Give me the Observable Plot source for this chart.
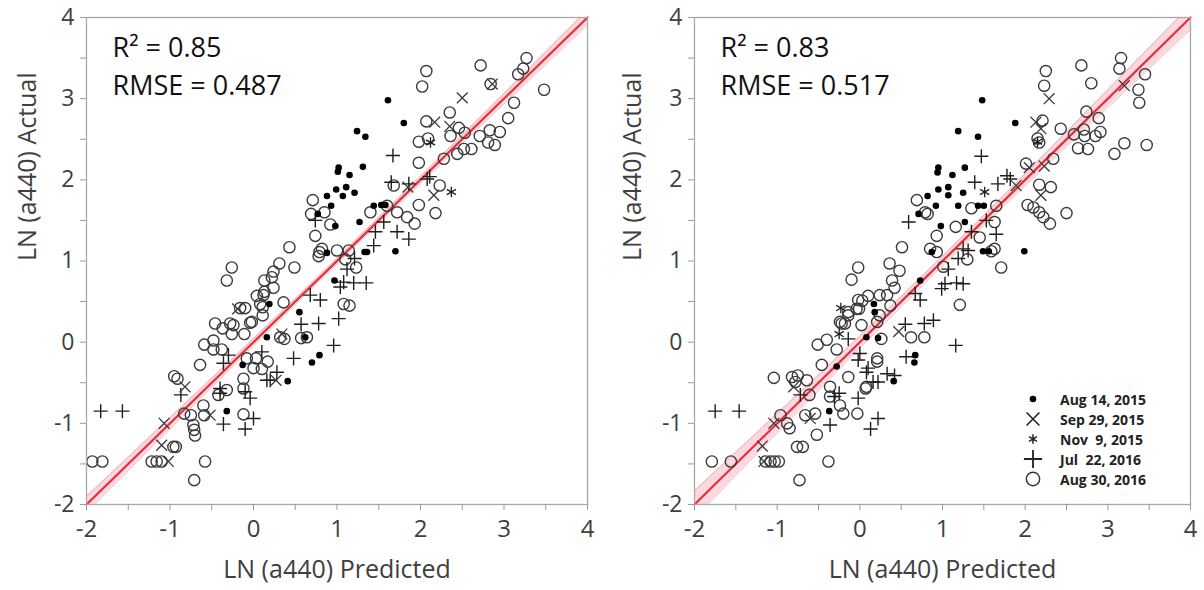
<!DOCTYPE html>
<html><head><meta charset="utf-8">
<script src="https://cdn.jsdelivr.net/npm/d3@7"></script>
<script src="https://cdn.jsdelivr.net/npm/@observablehq/plot@0.6"></script>
<style>
html,body{margin:0;padding:0;background:#fff;}
#wrap{position:relative;display:flex;width:1204px;height:590px;overflow:hidden;}
#wrap svg{display:block;}
#legend{position:absolute;left:1022px;top:389px;font-family:"Open Sans",sans-serif;font-weight:700;font-size:14px;color:#222;}
#legend .row{display:flex;align-items:center;height:20px;white-space:pre;}
#legend svg{width:22px;height:20px;margin-right:16px;}
</style></head><body>
<div id="wrap"><div id="left"></div><div id="right"></div><div id="legend"></div></div>
<script>
// ---- axis ticks ----
const majorTicks = [-2, -1, 0, 1, 2, 3, 4];
const minorTicks = [-1.5, -0.5, 0.5, 1.5, 2.5, 3.5];
const xLabel = "LN (a440) Predicted";
const yLabel = "LN (a440) Actual";

// ---- 1:1 fit line and confidence band ----
const fitX = [-2, 4];
const fitY = [-2, 4];
const bandX = [-2, -1, 0, 1, 2, 3, 4];
const bandLoL = [-2.10, -1.07, -0.045, 0.965, 1.955, 2.935, 3.905];
const bandHiL = [-1.90, -0.93, 0.045, 1.035, 2.045, 3.065, 4.095];
const bandLoR = [-2.17, -1.12, -0.075, 0.94, 1.925, 2.89, 3.85];
const bandHiR = [-1.83, -0.88, 0.075, 1.06, 2.075, 3.11, 4.15];

// ---- statistics ----
const statsL = ["R² = 0.85", "RMSE = 0.487"];
const statsR = ["R² = 0.83", "RMSE = 0.517"];

// ---- legend ----
const seriesNames = ["Aug 14, 2015", "Sep 29, 2015", "Nov  9, 2015", "Jul  22, 2016", "Aug 30, 2016"];

// ---- LEFT panel data [predicted, actual] ----
const aug14_2015_L = [[1.61,2.98],[1.80,2.70],[1.24,2.60],[1.34,2.53],[1.02,2.15],[1.01,2.10],[1.31,2.16],[1.15,2.06],[0.99,1.88],[1.11,1.91],[1.07,1.80],[1.21,1.84],[0.88,1.80],[0.93,1.68],[0.77,1.58],[0.98,1.43],[1.27,1.48],[1.44,1.68],[1.53,1.69],[1.58,1.69],[0.88,1.10],[1.33,1.11],[1.36,1.11],[1.70,1.12],[0.97,0.76],[0.55,0.37],[0.62,0.06],[0.19,0.47],[0.16,0.06],[0.70,-0.25],[0.79,-0.16],[-0.13,-0.28],[0.41,-0.48],[-0.32,-0.85]];
const sep29_2015_L = [[2.50,3.01],[2.86,3.18],[2.17,2.71],[2.35,2.66],[1.85,1.91],[2.16,1.81],[-0.19,0.41],[0.34,0.10],[0.27,-0.47],[-0.82,-0.55],[-0.52,-0.90],[-1.07,-1.00],[-1.10,-1.27],[-1.02,-1.47]];
const nov9_2015_L = [[2.12,2.46],[2.37,1.85]];
const jul22_2016_L = [[1.67,2.30],[1.65,1.97],[1.86,1.95],[2.08,2.01],[2.11,2.04],[1.56,1.48],[1.72,1.36],[1.86,1.27],[0.74,1.50],[1.46,1.36],[1.44,1.19],[1.21,1.03],[1.12,0.90],[1.08,0.74],[1.20,0.73],[1.35,0.73],[1.04,0.68],[0.68,0.58],[0.80,0.52],[1.02,0.29],[0.78,0.23],[0.57,0.22],[0.96,-0.04],[0.48,-0.20],[-1.83,-0.85],[-1.57,-0.85],[-0.87,-0.65],[-0.30,-0.16],[-0.36,-0.26],[-0.40,-0.57],[-0.40,-0.63],[0.10,-0.12],[0.28,-0.37],[0.16,-0.47],[0.20,-0.47],[-0.04,-0.69],[-0.10,-0.61],[0.00,-0.94],[-0.36,-1.01],[-0.10,-1.07]];
const aug30_2016_L = [[2.07,3.34],[2.02,3.15],[2.72,3.41],[2.84,3.18],[3.27,3.50],[3.23,3.37],[3.17,3.30],[3.48,3.11],[3.12,2.95],[3.05,2.76],[2.35,2.83],[2.07,2.72],[2.46,2.64],[2.36,2.54],[2.53,2.58],[2.71,2.54],[2.83,2.61],[2.95,2.59],[2.81,2.46],[2.89,2.43],[1.98,2.47],[2.09,2.51],[2.52,2.38],[2.61,2.38],[2.44,2.32],[2.28,2.26],[1.98,2.21],[2.23,1.93],[2.18,1.59],[1.98,1.69],[1.93,1.46],[1.84,1.54],[1.68,1.93],[1.72,1.60],[1.60,1.68],[1.40,1.60],
[0.71,1.75],[0.69,1.58],[0.85,1.60],[0.92,1.45],[0.74,1.31],[0.43,1.17],[0.79,1.11],[0.82,1.15],[0.78,1.06],[1.00,1.13],[1.14,1.13],[1.10,1.02],[1.23,0.92],[1.08,0.47],[1.15,0.45],[0.49,0.92],[0.31,0.97],[0.24,0.87],[0.22,0.80],[0.13,0.76],[0.24,0.67],[0.12,0.58],[0.04,0.57],[0.08,0.47],[0.36,0.49],[0.11,0.33],[-0.16,0.42],[-0.10,0.42],[-0.04,0.24],[0.32,0.06],[0.57,0.05],[-0.24,0.21],[-0.26,0.92],[-0.32,0.76],[0.13,0.62],[0.11,0.43],[-0.02,0.25],[-0.46,0.23],[-0.37,0.17],[-0.28,0.23],[-0.26,0.10],[-0.59,-0.03],[-0.48,0.02],[-0.48,-0.09],[-0.38,-0.09],[-0.64,-0.28],[-0.08,-0.20],[0.00,-0.32],[0.03,-0.20],[0.10,-0.33],[-0.12,-0.45],[-0.32,-0.59],[-0.42,-0.65],[-0.12,-0.57],[-0.95,-0.42],[-0.91,-0.45],[-0.83,-0.88],[-0.75,-0.90],[-0.60,-0.78],[-0.59,-0.90],[-0.72,-1.02],[-0.71,-1.08],[-0.70,-1.15],[-0.12,-0.89],[-0.96,-1.29],[-0.93,-1.29],[-1.93,-1.47],[-1.81,-1.47],[-1.22,-1.47],[-1.16,-1.47],[-1.10,-1.47],[-0.58,-1.47],[-0.71,-1.70],[0.37,0.04],[0.17,-0.24],[0.64,0.06],[-0.11,0.10]];

// ---- RIGHT panel data [predicted, actual] ----
const aug14_2015_R = [[1.48,2.98],[1.88,2.70],[1.19,2.60],[1.43,2.53],[0.95,2.15],[0.94,2.09],[1.27,2.15],[1.12,2.06],[0.95,1.88],[1.07,1.91],[1.07,1.81],[1.25,1.84],[0.82,1.80],[0.92,1.68],[0.71,1.58],[0.98,1.43],[1.19,1.68],[1.27,1.48],[1.43,1.68],[1.50,1.68],[1.49,1.12],[1.56,1.12],[0.87,1.11],[1.99,1.12],[0.73,0.76],[0.18,0.37],[0.17,0.47],[0.08,0.06],[0.22,0.05],[0.67,-0.16],[0.66,-0.25],[-0.28,-0.30],[0.41,-0.48],[-0.37,-0.85]];
const sep29_2015_R = [[3.20,3.16],[2.29,3.00],[2.13,2.71],[2.19,2.63],[2.05,2.15],[2.23,2.17],[1.89,1.93],[2.19,1.81],[0.47,0.13],[-0.80,-0.55],[-0.60,-0.94],[-1.04,-1.00],[-1.18,-1.28],[-1.16,-1.47]];
const nov9_2015_R = [[2.15,2.47],[1.51,1.85],[-0.23,0.42],[-0.25,0.10]];
const jul22_2016_R = [[1.47,2.29],[1.39,1.97],[1.67,1.95],[1.78,2.05],[1.82,2.01],[1.53,1.50],[1.65,1.33],[1.35,1.36],[0.59,1.48],[1.25,1.15],[1.31,1.13],[1.19,1.03],[1.07,0.90],[1.03,0.72],[1.17,0.73],[1.25,0.72],[0.99,0.66],[0.67,0.60],[0.73,0.52],[0.89,0.27],[0.78,0.23],[0.55,0.22],[1.16,-0.04],[0.56,-0.18],[-1.75,-0.85],[-1.46,-0.85],[-0.72,-0.65],[-0.14,0.04],[0.00,-0.14],[-0.02,-0.22],[-0.25,-0.63],[-0.31,-0.67],[0.08,-0.37],[0.10,-0.32],[0.16,-0.49],[0.22,-0.49],[0.33,-0.39],[0.42,-0.41],[-0.02,-0.69],[0.22,-0.94],[-0.36,-1.02],[0.13,-1.07]];
const aug30_2016_R = [[2.25,3.34],[2.23,3.16],[2.68,3.41],[2.80,3.19],[3.16,3.50],[3.14,3.37],[3.45,3.30],[3.37,3.11],[3.38,2.95],[2.74,2.84],[2.89,2.76],[2.21,2.73],[2.43,2.63],[2.59,2.56],[2.71,2.62],[2.72,2.54],[2.85,2.54],[2.91,2.59],[2.15,2.51],[2.17,2.46],[2.64,2.39],[2.76,2.38],[3.08,2.32],[3.20,2.45],[3.47,2.43],[2.34,2.26],[2.01,2.20],[2.31,1.91],[2.17,1.94],[2.50,1.59],[2.03,1.69],[2.10,1.66],[2.17,1.60],[2.22,1.54],[2.30,1.46],[1.65,1.68],[1.63,1.48],
[0.69,1.75],[0.79,1.60],[0.82,1.58],[0.93,1.31],[0.51,1.17],[0.85,1.15],[0.93,1.11],[1.01,0.93],[1.16,1.42],[1.35,1.65],[1.45,1.29],[1.30,1.02],[1.63,1.15],[1.59,1.12],[1.71,0.92],[1.21,0.46],[-0.02,0.92],[-0.10,0.77],[0.36,0.97],[0.48,0.88],[0.39,0.76],[0.42,0.67],[0.24,0.58],[0.10,0.57],[0.03,0.51],[0.33,0.58],[0.37,0.45],[-0.04,0.41],[-0.14,0.33],[0.24,0.33],[-0.18,0.23],[-0.24,0.25],[0.02,0.21],[0.62,0.06],[0.78,0.06],[-0.02,0.52],[-0.14,0.37],[-0.22,0.23],[-0.01,0.41],[-0.51,-0.03],[-0.40,0.03],[-0.28,-0.09],[-0.46,-0.28],[-1.04,-0.44],[-0.82,-0.43],[-0.75,-0.41],[-0.78,-0.49],[-0.64,-0.47],[-0.61,-0.65],[-0.96,-0.90],[-0.88,-1.00],[-0.85,-1.06],[-0.66,-0.90],[-0.54,-0.88],[-0.52,-1.14],[-0.76,-1.29],[-0.69,-1.29],[-1.79,-1.47],[-1.56,-1.47],[-1.14,-1.47],[-1.08,-1.47],[-1.03,-1.47],[-0.98,-1.47],[-0.38,-1.47],[-0.73,-1.70],[-0.36,-0.67],[-0.24,-0.78],[-0.20,-0.88],[-0.03,-0.88],[-0.14,-0.43],[0.08,-0.55],[0.21,-0.20],[0.21,0.25],[-0.36,-0.55],[0.26,0.04],[0.21,-0.24],[0.07,-0.57]];

const FONT = "'Open Sans', 'Noto Sans', sans-serif";
const px = d => d[0], py = d => d[1];
const fmt = d => String(d);

function panel(o) {
  const band = bandX.map((x, i) => ({x, lo: o.lo[i], hi: o.hi[i]}));
  const fit = fitX.map((x, i) => ({x, y: fitY[i]}));
  return Plot.plot({
    width: o.width, height: 590,
    marginLeft: o.ml, marginRight: o.mr, marginTop: 17, marginBottom: 86,
    x: {domain: [-2, 4]},
    y: {domain: [-2, 4]},
    style: {fontFamily: FONT, fontSize: "24px", color: "#404040", background: "white", overflow: "visible"},
    marks: [
      Plot.areaY(band, {x: "x", y1: "lo", y2: "hi", fill: "#f5a9b3", fillOpacity: 0.45, curve: "natural", clip: true}),
      Plot.line(band, {x: "x", y: "lo", stroke: "#f08896", strokeWidth: 0.8, strokeOpacity: 0.7, curve: "natural", clip: true}),
      Plot.line(band, {x: "x", y: "hi", stroke: "#f08896", strokeWidth: 0.8, strokeOpacity: 0.7, curve: "natural", clip: true}),
      Plot.line(fit, {x: "x", y: "y", stroke: "#e62e3c", strokeWidth: 2.2}),
      Plot.dot(o.circles, {x: px, y: py, r: 5.6, stroke: "#3a3a3a", strokeWidth: 1.4, fill: "none"}),
      Plot.dot(o.pluses, {x: px, y: py, symbol: "plus", r: 4.6, stroke: "#1e1e1e", strokeWidth: 1.4}),
      Plot.dot(o.times, {x: px, y: py, symbol: "times", r: 5, stroke: "#3a3a3a", strokeWidth: 1.3}),
      Plot.dot(o.stars, {x: px, y: py, symbol: "asterisk", r: 5, stroke: "#1e1e1e", strokeWidth: 1.3}),
      Plot.dot(o.dots, {x: px, y: py, r: 3.3, fill: "#000", stroke: "none"}),
      Plot.frame({stroke: "#a9a9a9", strokeWidth: 1.3}),
      Plot.axisX(majorTicks, {tickSize: 6, tickPadding: 9, stroke: "#9a9a9a", fill: "#404040", fontSize: 24, tickFormat: fmt, label: null}),
      Plot.axisX(minorTicks, {tickSize: 6, stroke: "#9a9a9a", fill: "none", label: null}),
      Plot.axisY(majorTicks, {tickSize: 6, tickPadding: 6, stroke: "#9a9a9a", fill: "#404040", fontSize: 23, tickFormat: fmt, label: null}),
      Plot.axisY(minorTicks, {tickSize: 6, stroke: "#9a9a9a", fill: "none", label: null}),
      Plot.text([xLabel], {frameAnchor: "bottom", dy: 65, lineAnchor: "middle", fontSize: 25, fill: "#404040"}),
      Plot.text([yLabel], {frameAnchor: "left", dx: -o.ylo, rotate: -90, lineAnchor: "middle", fontSize: 25, fill: "#404040"}),
      Plot.text([o.stats.join("\n")], {frameAnchor: "top-left", dx: 26, dy: 12, textAnchor: "start", lineAnchor: "top",
        lineHeight: 1.42, fontSize: 27, fill: "#111"})
    ]
  });
}

document.getElementById("left").append(panel({
  width: 600, ml: 86, mr: 13, ylo: 59, lo: bandLoL, hi: bandHiL, stats: statsL,
  dots: aug14_2015_L, times: sep29_2015_L, stars: nov9_2015_L, pluses: jul22_2016_L, circles: aug30_2016_L
}));
document.getElementById("right").append(panel({
  width: 604, ml: 94, mr: 14, ylo: 62, lo: bandLoR, hi: bandHiR, stats: statsR,
  dots: aug14_2015_R, times: sep29_2015_R, stars: nov9_2015_R, pluses: jul22_2016_R, circles: aug30_2016_R
}));

// ---- legend (HTML overlay) ----
const legendSymbols = [
  {type: d3.symbolCircle, size: 34, fill: "#000", stroke: "none", sw: 0},
  {type: d3.symbolTimes, size: 110, fill: "none", stroke: "#222", sw: 1.6},
  {type: d3.symbolAsterisk, size: 60, fill: "none", stroke: "#222", sw: 1.5},
  {type: d3.symbolPlus, size: 110, fill: "none", stroke: "#222", sw: 1.8},
  {type: d3.symbolCircle, size: 140, fill: "none", stroke: "#333", sw: 1.4}
];
const leg = d3.select("#legend");
seriesNames.forEach((name, i) => {
  const s = legendSymbols[i];
  const row = leg.append("div").attr("class", "row");
  const svg = row.append("svg").attr("viewBox", "-11 -10 22 20");
  svg.append("path").attr("d", d3.symbol(s.type, s.size)()).attr("fill", s.fill).attr("stroke", s.stroke).attr("stroke-width", s.sw);
  row.append("span").text(name);
});
</script>
</body></html>
